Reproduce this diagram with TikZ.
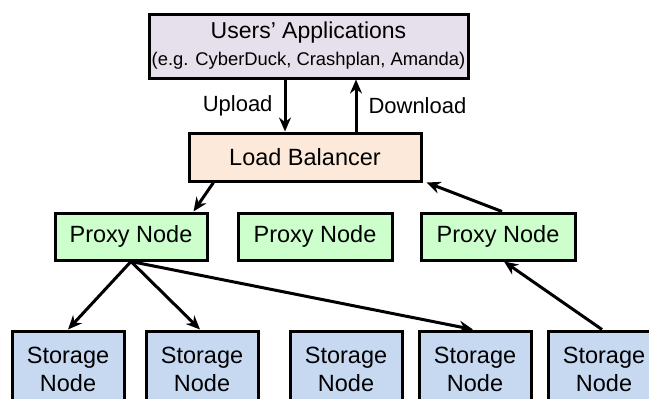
\documentclass[tikz,border=0pt]{standalone}
\usepackage{fontspec}
\setmainfont{Liberation Sans}
\usetikzlibrary{arrows.meta}

\definecolor{appfill}{HTML}{E6E0EC}
\definecolor{lbfill}{HTML}{FDE9D9}
\definecolor{proxyfill}{HTML}{CCFFCC}
\definecolor{storefill}{HTML}{C6D9F1}

\begin{document}
\begin{tikzpicture}[x = 1pt, y = -1pt]
			% Keep the page at the size of the original
			\clip (0, 0) rectangle (649, 399);

			% Box and arrow styles
			\tikzset{box/.style = {draw, line width = 3pt, inner sep = 0pt, align = center, font = \fontsize{23.5}{28}\selectfont},
				thick arrows/.style = {-{Stealth[length = 14pt, width = 12pt]}, line width = 3pt}}

			% Users and the load balancer
			\node[box, fill = appfill, minimum width = 319, minimum height = 64] (users) at (308.5, 46)
				{\fontsize{23}{23}\selectfont Users' Applications\\[-1pt]{\fontsize{18.4}{20}\selectfont (e.g. CyberDuck, Crashplan, Amanda)}};
			\node[box, fill = lbfill, minimum width = 232, minimum height = 48] (lb) at (305, 157) {Load Balancer};

			% Proxy nodes
			\node[box, fill = proxyfill, minimum width = 152, minimum height = 47] (p1) at (131, 236.5) {Proxy Node};
			\node[box, fill = proxyfill, minimum width = 154, minimum height = 47] (p2) at (315, 236.5) {Proxy Node};
			\node[box, fill = proxyfill, minimum width = 154, minimum height = 47] (p3) at (498, 236.5) {Proxy Node};

			% Storage nodes
			\node[box, fill = storefill, minimum width = 112, minimum height = 76] (s1) at (68, 369) {Storage\\Node};
			\node[box, fill = storefill, minimum width = 112, minimum height = 76] (s2) at (202, 369) {Storage\\Node};
			\node[box, fill = storefill, minimum width = 112, minimum height = 76] (s3) at (346, 369) {Storage\\Node};
			\node[box, fill = storefill, minimum width = 112, minimum height = 76] (s4) at (475, 369) {Storage\\Node};
			\node[box, fill = storefill, minimum width = 112, minimum height = 76] (s5) at (604, 369) {Storage\\Node};

			% Upload and download
			\draw[thick arrows] ([xshift = -23.5pt]users.south) -- ([xshift = -23.5pt]users.south |- lb.north)
				node[midway, left, inner sep = 11pt, font = \fontsize{22}{24}\selectfont] {Upload};
			\draw[thick arrows] ([xshift = 51pt]lb.north) -- ([xshift = 51pt]lb.north |- users.south)
				node[midway, right, inner sep = 11pt, font = \fontsize{22}{24}\selectfont] {Download};

			% Balancer to proxies
			\draw[thick arrows] ([xshift = 26pt]lb.south west) -- ([xshift = -15pt]p1.north east);
			\draw[thick arrows] ([xshift = 4pt]p3.north) -- ([xshift = 4pt]lb.south east);

			% Proxies to storage
			\draw[thick arrows] (p1.south) -- (s1.north);
			\draw[thick arrows] (p1.south) -- ([xshift = -2pt]s2.north);
			\draw[thick arrows] (p1.south) -- ([xshift = -2pt]s4.north);
			\draw[thick arrows] ([xshift = -2pt]s5.north) -- ([xshift = 6pt]p3.south);

		\end{tikzpicture}
\end{document}
